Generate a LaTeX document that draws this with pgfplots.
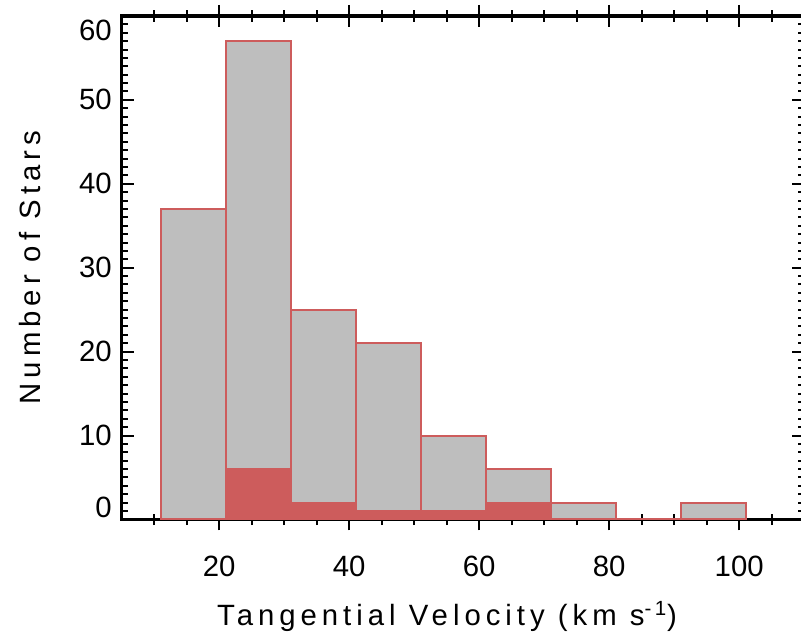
\documentclass[border=0pt]{standalone}
\usepackage{pgfplots}
\pgfplotsset{compat=1.18}
\usepackage{fontspec}
\setmainfont{Liberation Sans}
\newfontfamily\labfont[LetterSpace=17]{Liberation Sans}
\definecolor{hred}{HTML}{CD5C5C}
\definecolor{hgray}{HTML}{BEBEBE}
\pgfplotsset{
  xaxisbase/.style={
    scale only axis, width=511.9pt, height=377.6pt,
    xmin=5, xmax=110, ymin=0, ymax=60,
    hide y axis, ytick=\empty,
    xtick={20,40,60,80,100},
    minor xtick={10,15,25,30,35,45,50,55,65,70,75,85,90,95,105},
    major tick length=8.25pt, minor tick length=4.2pt,
    axis line style={line width=2.4pt},
    every tick/.style={black, line width=1.5pt},
    every minor tick/.style={black, line width=1.5pt},
  }
}
\begin{document}
\begin{tikzpicture}
% x ticks pointing inwards (hidden under the bars)
\begin{axis}[xaxisbase, tick align=inside, xticklabels={}]
\addplot[draw=none] coordinates {(5,0)};
\end{axis}
% x ticks pointing outwards, labels
\begin{axis}[
  name=B, xaxisbase, tick align=outside,
  /pgf/number format/assume math mode=true,
  tick label style={font=\fontsize{22}{24}\selectfont},
  xticklabel style={yshift=-16pt},
  xlabel={Tangential Velocity (km s\textsuperscript{-1})},
  xlabel style={font=\fontsize{22}{24}\labfont, yshift=-11pt, xshift=-12pt},
]
\addplot[draw=none] coordinates {(5,0)};
\end{axis}
% main axis with data and y ticks
\begin{axis}[
  name=A,
  scale only axis, width=511.9pt, height=377.6pt,
  xmin=5, xmax=110, ymin=0, ymax=60,
  xtick=\empty,
  ytick={0,10,20,30,40,50,60},
  yticklabels={\raisebox{9pt}[\height][\depth]{0},10,20,30,40,50,\raisebox{-10.5pt}[\height][\depth]{60}},
  minor y tick num=9,
  tick align=inside,
  major tick length=9pt, minor tick length=4.5pt,
  axis line style={line width=2.4pt},
  every tick/.style={black, line width=1.5pt},
  tick label style={font=\fontsize{22}{24}\selectfont},
  yticklabel style={xshift=-4pt},
  ylabel={Number of Stars},
  ylabel style={font=\fontsize{22}{24}\labfont, yshift=22pt},
]
\addplot[ybar interval, fill=hgray, draw=hred, line width=1.5pt] coordinates {
  (11,37) (21,57) (31,25) (41,21) (51,10) (61,6) (71,2) (81,0) (91,2) (101,2)
};
\addplot[ybar interval, fill=hred, draw=hred, line width=1.5pt] coordinates {
  (21,6) (31,2) (41,1) (51,1) (61,2) (71,2)
};
\end{axis}
\pgfresetboundingbox
\path[use as bounding box] ([shift={(-91.3pt,-91.5pt)}]A.south west) rectangle ([shift={(509.5pt,12pt)}]A.north west);
\end{tikzpicture}
\end{document}
